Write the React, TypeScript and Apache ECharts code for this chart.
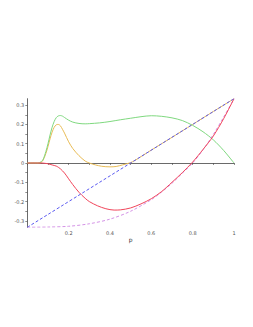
import React, { useEffect, useRef } from "react";
import * as echarts from "echarts";

const greenData: [number, number][] = [
  [0, 0], [0.05, 0], [0.06, 0.002], [0.075, 0.015], [0.09, 0.06], [0.1, 0.1],
  [0.11, 0.145], [0.12, 0.185], [0.13, 0.215], [0.14, 0.235], [0.15, 0.244],
  [0.16, 0.246], [0.17, 0.243], [0.18, 0.236], [0.2, 0.222], [0.22, 0.212],
  [0.25, 0.205], [0.28, 0.203], [0.3, 0.204], [0.35, 0.208], [0.4, 0.215],
  [0.45, 0.224], [0.5, 0.232], [0.55, 0.24], [0.6, 0.245], [0.65, 0.242],
  [0.7, 0.234], [0.75, 0.22], [0.8, 0.195], [0.85, 0.162], [0.9, 0.12],
  [0.95, 0.065], [1, 0],
];

const orangeData: [number, number][] = [
  [0, 0], [0.06, 0], [0.075, 0.012], [0.09, 0.05], [0.1, 0.085], [0.11, 0.125],
  [0.12, 0.16], [0.13, 0.185], [0.14, 0.198], [0.15, 0.2], [0.16, 0.193],
  [0.17, 0.175], [0.18, 0.155], [0.2, 0.11], [0.22, 0.075], [0.25, 0.038],
  [0.28, 0.01], [0.3, 0], [0.33, -0.01], [0.36, -0.017], [0.4, -0.02],
  [0.43, -0.018], [0.46, -0.01], [0.5, 0.002], [0.52, 0.013], [0.6, 0.067],
  [0.7, 0.133], [0.8, 0.2], [0.9, 0.267], [1, 0.333],
];

const redData: [number, number][] = [
  [0, 0], [0.07, 0], [0.08, -0.001], [0.1, -0.004], [0.12, -0.01], [0.14, -0.016],
  [0.15, -0.022], [0.16, -0.03], [0.18, -0.052], [0.2, -0.082], [0.22, -0.112],
  [0.25, -0.152], [0.28, -0.183], [0.3, -0.2], [0.34, -0.222], [0.38, -0.237],
  [0.42, -0.244], [0.45, -0.243], [0.5, -0.233], [0.55, -0.212], [0.6, -0.185],
  [0.65, -0.148], [0.7, -0.1], [0.75, -0.05], [0.8, 0.005], [0.85, 0.07],
  [0.9, 0.14], [0.95, 0.23], [1, 0.333],
];

const magentaData: [number, number][] = [
  [0, -0.333], [0.1, -0.332], [0.2, -0.328], [0.3, -0.315], [0.4, -0.291],
  [0.5, -0.25], [0.6, -0.19], [0.65, -0.15], [0.7, -0.105], [0.75, -0.053],
  [0.8, 0.0], [0.85, 0.068], [0.9, 0.148], [0.95, 0.238], [1, 0.333],
];

const blueData: [number, number][] = [
  [0, -0.3333], [1, 0.3333],
];

const yLabelValues = [-0.3, -0.2, -0.1, 0, 0.1, 0.2, 0.3];
const yTickValues = [-0.3, -0.25, -0.2, -0.15, -0.1, -0.05, 0, 0.05, 0.1, 0.15, 0.2, 0.25, 0.3];
const xLabelValues = [0.2, 0.4, 0.6, 0.8, 1];

export default function App() {
  const ref = useRef<HTMLDivElement>(null);
  useEffect(() => {
    if (!ref.current) return;
    const chart = echarts.init(ref.current, null, { renderer: "svg" });
    const line = (data: [number, number][], color: string, dashed = false, z = 2) => ({
      type: "line",
      data,
      showSymbol: false,
      smooth: 0.3,
      z,
      lineStyle: { color, width: 1, type: dashed ? [3, 2] : "solid" },
    });
    chart.setOption({
      animation: false,
      backgroundColor: "#ffffff",
      grid: { left: 27.3, right: 19, top: 98.7, bottom: 99.7 },
      xAxis: {
        type: "value",
        min: 0,
        max: 1,
        interval: 0.1,
        name: "p",
        nameLocation: "middle",
        nameGap: 9,
        nameTextStyle: { fontSize: 6, color: "#333", fontFamily: "DejaVu Sans" },
        axisLine: { onZero: true, lineStyle: { color: "#444", width: 0.8 } },
        axisTick: { show: true, length: 2, lineStyle: { color: "#444", width: 0.6 } },
        axisLabel: {
          fontSize: 5,
          color: "#555",
          margin: 3,
          fontFamily: "DejaVu Sans",
          customValues: xLabelValues,
          formatter: (v: number) => (Math.abs(v - 1) < 1e-9 ? "1" : v.toFixed(1)),
        },
        splitLine: { show: false },
      },
      yAxis: {
        type: "value",
        min: -0.3333,
        max: 0.3333,
        axisLine: { show: true, onZero: false, lineStyle: { color: "#444", width: 0.8 } },
        axisTick: {
          show: true,
          length: 2,
          customValues: yTickValues,
          lineStyle: { color: "#444", width: 0.6 },
        },
        axisLabel: {
          fontSize: 5,
          color: "#555",
          margin: 3,
          fontFamily: "DejaVu Sans",
          customValues: yLabelValues,
          formatter: (v: number) => (Math.abs(v) < 1e-9 ? "0" : v.toFixed(1)),
        },
        splitLine: { show: false },
      },
      series: [
        line(orangeData, "#e8bb55"),
        line(greenData, "#7fd97f"),
        line(magentaData, "#d493e6", true),
        line(redData, "#f0455a"),
        line(blueData, "#5a5af0", true, 3),
      ],
    });
    return () => chart.dispose();
  }, []);
  return (
    <div
      ref={ref}
      style={{ position: "absolute", left: 0, top: 0, width: 253, height: 327, background: "#fff" }}
    />
  );
}
